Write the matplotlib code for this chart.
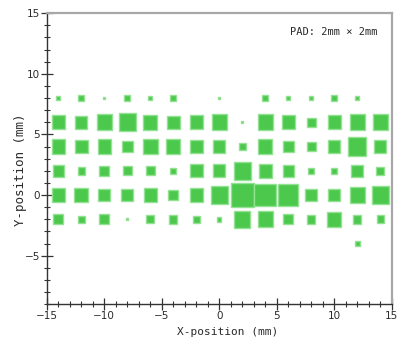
import matplotlib
matplotlib.use("Agg")
import matplotlib.pyplot as plt
from matplotlib.patches import Rectangle
from matplotlib.ticker import MultipleLocator

# Pad grid (mm) and relative signal per pad (1.0 = full 2 mm x 2 mm pad)
x_positions = [-14, -12, -10, -8, -6, -4, -2, 0, 2, 4, 6, 8, 10, 12, 14]
y_positions = [8, 6, 4, 2, 0, -2, -4]

signal_y8 = [0.17, 0.26, 0.07, 0.26, 0.17, 0.26, 0.00, 0.07, 0.00, 0.26, 0.17, 0.17, 0.28, 0.17, 0.00]
signal_y6 = [0.58, 0.53, 0.65, 0.73, 0.62, 0.55, 0.58, 0.65, 0.07, 0.65, 0.58, 0.38, 0.57, 0.65, 0.65]
signal_y4 = [0.58, 0.57, 0.58, 0.48, 0.64, 0.61, 0.55, 0.51, 0.32, 0.62, 0.49, 0.40, 0.53, 0.77, 0.51]
signal_y2 = [0.49, 0.32, 0.43, 0.39, 0.39, 0.26, 0.55, 0.53, 0.75, 0.58, 0.49, 0.26, 0.26, 0.51, 0.35]
signal_y0 = [0.58, 0.61, 0.53, 0.52, 0.58, 0.43, 0.55, 0.73, 1.00, 0.94, 0.87, 0.53, 0.51, 0.65, 0.73]
signal_ym2 = [0.43, 0.29, 0.43, 0.07, 0.33, 0.35, 0.29, 0.19, 0.68, 0.65, 0.43, 0.36, 0.61, 0.36, 0.32]
signal_ym4 = [0.00, 0.00, 0.00, 0.00, 0.00, 0.00, 0.00, 0.00, 0.00, 0.00, 0.00, 0.00, 0.00, 0.20, 0.00]

rows = [signal_y8, signal_y6, signal_y4, signal_y2, signal_y0, signal_ym2, signal_ym4]
pad_size = 2.0  # mm

label_font = ["DejaVu Sans Mono", "DejaVu Sans"]
tick_font = ["Liberation Sans Narrow", "DejaVu Sans"]
text_color = "#2a2a2a"

fig = plt.figure(figsize=(4.03, 3.46), dpi=100)
fig.patch.set_facecolor("white")
ax = fig.add_axes([0.116, 0.121, 0.856, 0.841])

for y, row in zip(y_positions, rows):
    for x, s in zip(x_positions, row):
        if s <= 0:
            continue
        side = s * pad_size
        ax.add_patch(Rectangle((x - side / 2, y - side / 2), side, side,
                               facecolor="#4cc84c", edgecolor="#93e293",
                               linewidth=1.0, zorder=2))

ax.set_xlim(-15, 15)
ax.set_ylim(-9, 15)

ax.xaxis.set_major_locator(MultipleLocator(5))
ax.xaxis.set_minor_locator(MultipleLocator(1))
ax.yaxis.set_major_locator(MultipleLocator(5))
ax.yaxis.set_minor_locator(MultipleLocator(1))

ax.tick_params(which="major", direction="inout", length=8, width=0.9,
               color="#333333", labelcolor=text_color, labelsize=7.5, pad=1)
ax.tick_params(which="minor", direction="inout", length=4, width=0.8,
               color="#333333")
ax.tick_params(top=False, right=False, which="both")
for lbl in ax.get_xticklabels() + ax.get_yticklabels():
    lbl.set_family(tick_font)

for side in ("left", "bottom"):
    ax.spines[side].set_color("#333333")
    ax.spines[side].set_linewidth(1.0)
for side in ("top", "right"):
    ax.spines[side].set_color("#a8a8a8")
    ax.spines[side].set_linewidth(1.6)

ax.set_xlabel("X-position (mm)", family=label_font, fontsize=8, color=text_color)
ax.set_ylabel("Y-position (mm)", family=label_font, fontsize=9, color=text_color)
ax.xaxis.set_label_coords(0.5255, -0.079)
ax.yaxis.set_label_coords(-0.057, 0.461)

ax.text(0.96, 0.935, "PAD: 2mm × 2mm", transform=ax.transAxes,
        ha="right", va="center", family=label_font, fontsize=7.5, color=text_color)

fig.savefig("out.png", dpi=100, facecolor="white")
